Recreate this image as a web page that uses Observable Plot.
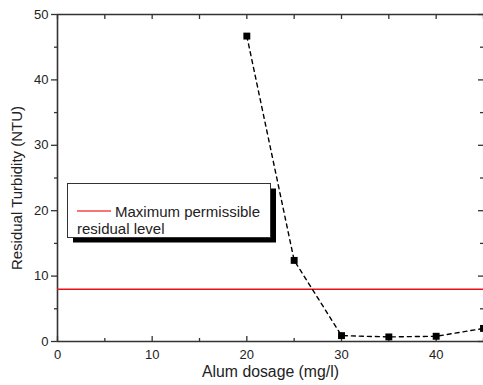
<!DOCTYPE html>
<html>
<head>
<meta charset="utf-8">
<script src="https://cdn.jsdelivr.net/npm/d3@7"></script>
<script src="https://cdn.jsdelivr.net/npm/@observablehq/plot@0.6"></script>
<style>
  html, body { margin: 0; padding: 0; background: white; }
</style>
</head>
<body>
<div id="chart"></div>
<script>
const dosage = [20, 25, 30, 35, 40, 45];
const turbidity = [46.7, 12.4, 0.9, 0.7, 0.8, 2.0];
const permissibleLimit = [8];
const xMajorTicks = [0, 10, 20, 30, 40];
const xMinorTicks = [5, 15, 25, 35, 45];
const yMajorTicks = [0, 10, 20, 30, 40, 50];
const yMinorTicks = [5, 15, 25, 35, 45];
const xTitle = "Alum dosage (mg/l)";
const yTitle = "Residual Turbidity (NTU)";
const legendLines = ["Maximum permissible", "residual level"];

const W = 483, H = 385;
const mL = 57, mR = 0, mT = 14, mB = 44;
const pw = W - mL - mR, ph = H - mT - mB;
const data = dosage.map((d, i) => ({x: d, y: turbidity[i]}));
const axisColor = "#333";

const chart = Plot.plot({
  width: W,
  height: H,
  marginLeft: mL,
  marginRight: mR,
  marginTop: mT,
  marginBottom: mB,
  style: {fontFamily: "'Liberation Sans', Arial, sans-serif", fontSize: "13px", background: "white", color: "#222", overflow: "visible"},
  x: {domain: [0, 45]},
  y: {domain: [0, 50]},
  marks: [
    // axes with labels
    Plot.axisX(xMajorTicks, {tickSize: 0, tickPadding: 8, label: null, fontSize: 13}),
    Plot.axisY(yMajorTicks, {tickSize: 6, tickPadding: 3, label: null, stroke: axisColor, strokeWidth: 1.3, fontSize: 13}),
    // left minor outward ticks
    Plot.axisY(yMinorTicks, {tickSize: 3, tickFormat: () => "", label: null, stroke: axisColor, strokeWidth: 1.3}),
    // bottom inward ticks
    Plot.tickX(xMajorTicks, {x: d => d, insetTop: ph - 5, stroke: axisColor, strokeWidth: 1.3}),
    Plot.tickX(xMinorTicks, {x: d => d, insetTop: ph - 3, stroke: axisColor, strokeWidth: 1.3}),
    // top inward ticks
    Plot.tickX(xMajorTicks, {x: d => d, insetBottom: ph - 5, stroke: axisColor, strokeWidth: 1.3}),
    Plot.tickX(xMinorTicks, {x: d => d, insetBottom: ph - 5, stroke: axisColor, strokeWidth: 1.3}),
    // right inward ticks
    Plot.tickY(yMajorTicks, {y: d => d, insetLeft: pw - 5, stroke: axisColor, strokeWidth: 1.3}),
    Plot.tickY(yMinorTicks, {y: d => d, insetLeft: pw - 3, stroke: axisColor, strokeWidth: 1.3}),
    // frame lines (top, bottom, left)
    Plot.ruleY([0, 50], {stroke: axisColor, strokeWidth: 1.6}),
    Plot.ruleX([0], {stroke: axisColor, strokeWidth: 1.6}),
    // permissible limit
    Plot.ruleY(permissibleLimit, {stroke: "#e8101a", strokeWidth: 1.5}),
    // data
    Plot.line(data, {x: "x", y: "y", curve: "linear", stroke: "black", strokeWidth: 1.4, strokeDasharray: "4,4"}),
    Plot.dot(data, {x: "x", y: "y", symbol: "square", r: 3.9, fill: "black", stroke: "none"}),
    // axis titles
    Plot.text([xTitle], {frameAnchor: "bottom", textAnchor: "middle", dy: 30, fontSize: 15.8, fill: "#222", lineAnchor: "middle"}),
    Plot.text([yTitle], {frameAnchor: "left", textAnchor: "middle", rotate: -90, dx: -40, dy: 10, fontSize: 15, fill: "#222", lineAnchor: "middle"})
  ]
});

// legend box (drawn inside plot area)
const svg = d3.select(chart);
const g = svg.append("g").attr("font-family", "'Liberation Sans', Arial, sans-serif").attr("text-anchor", "start");
g.append("rect").attr("x", 73).attr("y", 188.5).attr("width", 203).attr("height", 54).attr("fill", "black");
g.append("rect").attr("x", 67.5).attr("y", 183.5).attr("width", 203).attr("height", 54)
  .attr("fill", "white").attr("stroke", axisColor).attr("stroke-width", 1);
g.append("line").attr("x1", 77).attr("x2", 111).attr("y1", 211).attr("y2", 211)
  .attr("stroke", "#f04848").attr("stroke-width", 1.5);
g.append("text").attr("x", 115).attr("y", 216.5).attr("font-size", 15).attr("fill", "#222").attr("text-anchor", "start").text(legendLines[0]);
g.append("text").attr("x", 77).attr("y", 234).attr("font-size", 15).attr("fill", "#222").attr("text-anchor", "start").text(legendLines[1]);

document.getElementById("chart").append(chart);
</script>
</body>
</html>
